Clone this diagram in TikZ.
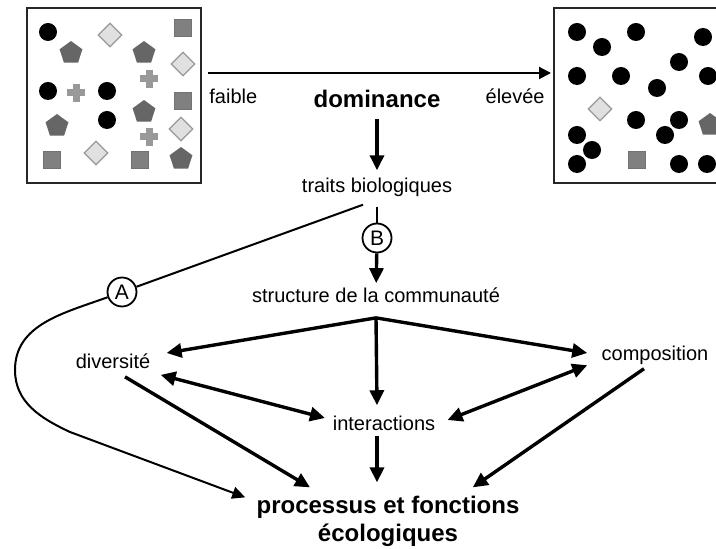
\documentclass[tikz,border=0pt]{standalone}
\usepackage{fontspec}
\setmainfont{Liberation Sans}
\usetikzlibrary{arrows.meta,shapes.geometric}

\begin{document}
\begin{tikzpicture}[
        x=0.5pt, y=-0.5pt,
        txt/.style={font=\fontsize{10}{12}\selectfont, inner sep=2pt},
        headline/.style={font=\fontsize{12}{14}\selectfont\bfseries, align=center, inner sep=2pt},
        boxframe/.style={rectangle, draw=black!85, line width=1pt, minimum width=87pt, minimum height=87.5pt},
        tag/.style={circle, draw, line width=0.9pt, minimum size=14.5pt, inner sep=0pt, font=\fontsize{10.5}{12}\selectfont},
        dot/.style={circle, fill=black, inner sep=0pt, minimum size=9pt},
        pent/.style={regular polygon, regular polygon sides=5, fill=black!60, inner sep=0pt, minimum size=12pt},
        diam/.style={diamond, draw=black!40, fill=black!12, line width=0.6pt, inner sep=0pt, minimum size=12pt},
        sq/.style={rectangle, fill=black!50, draw=black!55, line width=0.4pt, inner sep=0pt, minimum size=8.5pt},
        plusmark/.pic={\fill[black!40] (-9,-3.5) rectangle (9,3.5); \fill[black!40] (-3.5,-9) rectangle (3.5,9);},
        arr/.style={-{Triangle[length=7.5pt,width=7pt]}, line width=1.7pt},
        darr/.style={{Triangle[length=7.5pt,width=7pt]}-{Triangle[length=7.5pt,width=7pt]}, line width=1.7pt},
        fine/.style={line width=1pt}
    ]
        \useasboundingbox (0,0) rectangle (716,549);
        \clip (0,0) rectangle (716,549);

        % Communauté diversifiée
        \node[boxframe] (boxL) at (114,95.5) {};
        \foreach \x/\y [count=\i] in {48/32, 48/91, 107/91, 107/120}
            \node[dot] (dl\i) at (\x,\y) {};
        \foreach \x/\y [count=\i] in {71/53, 144/53, 144/112, 57/126, 181/159}
            \node[pent] (pl\i) at (\x,\y) {};
        \foreach \x/\y [count=\i] in {110/35, 183/64, 181/129, 96/153}
            \node[diam] (rl\i) at (\x,\y) {};
        \foreach \x/\y [count=\i] in {183/28, 183/101, 52/160, 140/160}
            \node[sq] (sl\i) at (\x,\y) {};
        \foreach \x/\y in {149/79, 76/93, 149/137}
            \pic at (\x,\y) {plusmark};

        % Communauté dominée
        \node[boxframe] (boxR) at (641,95.5) {};
        \foreach \x/\y [count=\i] in {577/32, 602/47, 636/32, 703/37, 679/62, 577/76, 621/76, 657/88, 708/76,
                                       636/120, 679/120, 665/135, 577/135, 592/150, 577/164, 679/164, 707/164}
            \node[dot] (dr\i) at (\x,\y) {};
        \node[diam] (rr1) at (600,109) {};
        \node[pent] (pr1) at (710,125) {};
        \node[sq] (sr1) at (637,160) {};

        % Gradient de dominance
        \draw[line width=1pt, -{Triangle[length=6pt,width=6pt]}] ([xshift=3pt,yshift=11.25pt]boxL.east) -- ([xshift=-1pt,yshift=11.25pt]boxR.west);
        \node[txt, anchor=west] (low) at (205,96) {faible};
        \node[txt, anchor=east] (high) at (549,96) {élevée};
        \node[headline] (dom) at (377,99) {dominance};

        % Niveaux
        \node[txt] (traits) at (377,187) {traits biologiques};
        \node[tag] (B) at (377,238) {B};
        \node[txt] (struct) at (376,295) {structure de la communauté};
        \node[txt] (div) at (113,361) {diversité};
        \node[txt] (comp) at (655,355) {composition};
        \node[txt] (inter) at (384,423) {interactions};
        \node[headline] (proc) at (388,521) {processus et fonctions\\écologiques};
        \node[tag] (A) at (122,292) {A};

        % Voie A
        \coordinate (bend) at (15,370);
        \coordinate (turn) at (70,432);
        \draw[fine] ([shift={(-7pt,-2pt)}]traits.south) -- (A);
        \draw[fine, -{Triangle[length=6.5pt,width=6pt]}] (A) to[out=200,in=90] (bend) to[out=-90,in=155] (turn) -- ([shift={(-3.5pt,-3pt)}]proc.north west);

        % Voie B
        \draw[arr] ([yshift=-3.5pt]dom.south) -- ([yshift=1.5pt]traits.north);
        \draw[fine] ([yshift=-3pt]traits.south) -- (B);
        \draw[arr] (B) -- (struct);

        % Structure
        \coordinate (fork) at ([yshift=-5.5pt]struct.south);
        \draw[arr] (fork) -- ([shift={(6pt,4pt)}]div.east);
        \draw[arr] (fork) -- ([shift={(-5pt,1pt)}]comp.west);
        \draw[arr] (fork) -- ([shift={(-3.5pt,3pt)}]inter.north);
        \draw[darr] ([shift={(3pt,-1pt)}]div.south east) -- ([shift={(-1.75pt,2.5pt)}]inter.west);
        \draw[darr] ([shift={(-5pt,1.75pt)}]comp.south west) -- ([shift={(4pt,1.5pt)}]inter.east);

        % Effets sur les fonctions
        \draw[arr] ([shift={(6pt,-2pt)}]div.south) -- ([shift={(-39pt,2pt)}]proc.north);
        \draw[arr] ([shift={(-3.5pt,-0.75pt)}]inter.south) -- ([shift={(-5.5pt,4.5pt)}]proc.north);
        \draw[arr] ([shift={(-5.5pt,0pt)}]comp.south) -- ([shift={(-25.5pt,2pt)}]proc.north east);
    \end{tikzpicture}
\end{document}
